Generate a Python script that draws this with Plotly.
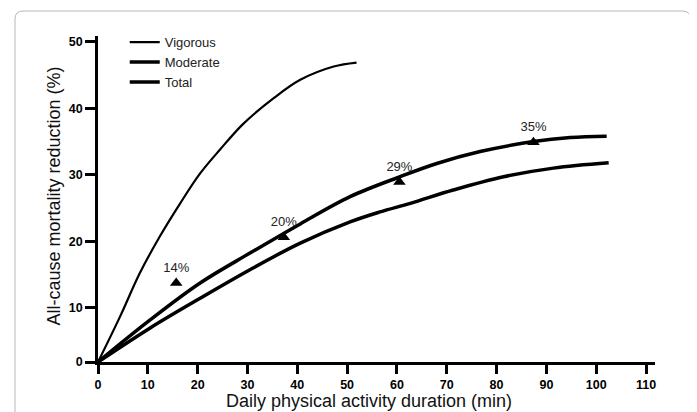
import plotly.graph_objects as go

# ---- data ----
vig_x = [0, 4.4, 8.4, 12.4, 16.5, 20.5, 24.5, 29.2, 35.2, 40.6, 47.3, 51.9]
vig_y = [1.8, 8.6, 15.2, 20.7, 25.7, 30.2, 33.8, 37.7, 41.5, 44.3, 46.3, 46.9]

mod_x = [0, 10.4, 20.5, 30.5, 40.6, 50.6, 56.6, 62.7, 71.3, 81.4, 91.4, 102.5]
mod_y = [1.8, 6.9, 11.4, 15.7, 19.7, 22.9, 24.4, 25.7, 27.7, 29.7, 31.0, 31.8]

tot_x = [0, 10.4, 20.5, 30.5, 40.6, 50.6, 60.6, 68.0, 76.7, 87.4, 94.8, 102.1]
tot_y = [1.8, 8.1, 13.7, 18.2, 22.6, 26.7, 29.7, 31.7, 33.5, 35.0, 35.6, 35.8]

obs_x = [15.7, 37.3, 60.5, 87.4]
obs_y = [13.7, 20.6, 28.9, 34.9]
obs_labels = ["14%", "20%", "29%", "35%"]

x_ticks = [0, 10, 20, 30, 40, 50, 60, 70, 80, 90, 100, 110]
y_tickvals = [1.8, 10, 20, 30, 40, 50]
y_ticktext = ["0", "10", "20", "30", "40", "50"]

FONT = "Liberation Sans, Arial, sans-serif"

fig = go.Figure()
fig.add_trace(go.Scatter(x=vig_x, y=vig_y, mode="lines", name="Vigorous",
                         line=dict(color="black", width=2.2, shape="spline", smoothing=1)))
fig.add_trace(go.Scatter(x=mod_x, y=mod_y, mode="lines", name="Moderate",
                         line=dict(color="black", width=3.5, shape="spline", smoothing=1)))
fig.add_trace(go.Scatter(x=tot_x, y=tot_y, mode="lines", name="Total",
                         line=dict(color="black", width=3.5, shape="spline", smoothing=1)))
fig.add_trace(go.Scatter(x=obs_x, y=obs_y, mode="markers+text", text=obs_labels,
                         textposition="top center", showlegend=False,
                         textfont=dict(family=FONT, size=13, color="#222"),
                         marker=dict(symbol="triangle-up", size=11, color="black")))

# frame (rounded box around the figure)
L, R, T, B = (15 - 98) / 557, (690.5 - 98) / 557, (362 - 11) / 326, (362 - 430) / 326
rx, ry = 8 / 557, 8 / 326
fig.add_shape(type="path", xref="paper", yref="paper",
              path=f"M{L},{B} L{L},{T-ry} Q{L},{T} {L+rx},{T} L{R-rx},{T} Q{R},{T} {R},{T-ry} L{R},{B}",
              line=dict(color="#b8b8b8", width=1), layer="below")

fig.add_annotation(text="Daily physical activity duration (min)", xref="paper", yref="paper",
                   x=0.4865, y=-0.119, xanchor="center", yanchor="middle", showarrow=False,
                   font=dict(family=FONT, size=18, color="#111"))
fig.add_annotation(text="All-cause mortality reduction (%)", xref="paper", yref="paper",
                   x=-0.078, y=0.509, xanchor="center", yanchor="middle",
                   showarrow=False, textangle=-90,
                   font=dict(family=FONT, size=18, color="#111"))

fig.update_layout(
    width=689, height=404,
    margin=dict(l=90, r=42, t=28, b=50),
    paper_bgcolor="white", plot_bgcolor="white",
    font=dict(family=FONT, color="black"),
    showlegend=True,
    legend=dict(x=0.048, y=1.027, xanchor="left", yanchor="top",
                font=dict(family=FONT, size=13, color="#222"),
                bgcolor="rgba(0,0,0,0)", tracegroupgap=0),
    xaxis=dict(range=[0, 111.8], tickvals=x_ticks, showgrid=False, zeroline=False,
               showline=True, linecolor="black", linewidth=2.5,
               ticks="outside", ticklen=9, tickwidth=2.5, tickcolor="black",
               tickfont=dict(family=FONT, size=12.5, color="black", weight="bold")),
    yaxis=dict(range=[1.8, 50.9], tickvals=y_tickvals, ticktext=y_ticktext,
               showgrid=False, zeroline=False,
               showline=True, linecolor="black", linewidth=2.5,
               ticks="outside", ticklen=10, tickwidth=2.5, tickcolor="black",
               tickfont=dict(family=FONT, size=12.5, color="black", weight="bold")),
)

fig.write_html("out.html")
